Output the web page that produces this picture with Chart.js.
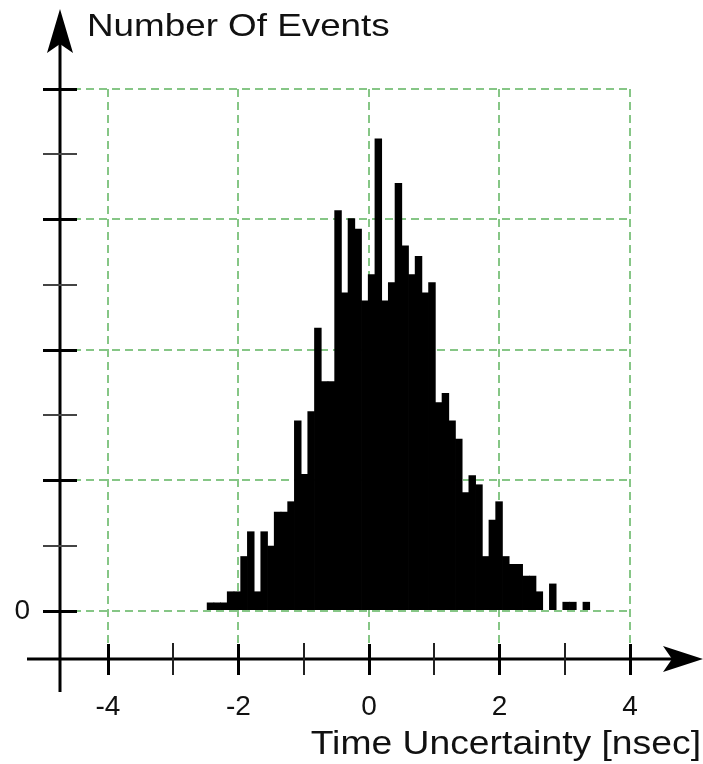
<!DOCTYPE html>
<html>
<head>
<meta charset="utf-8">
<script src="https://cdn.jsdelivr.net/npm/chart.js@4.4.1/dist/chart.umd.min.js"></script>
<style>
  html, body { margin: 0; padding: 0; background: #ffffff; }
  #wrap { width: 703px; height: 764px; position: relative; }
</style>
</head>
<body>
<div id="wrap"><canvas id="c" width="703" height="764"></canvas></div>
<script>
// ---- data ----
// bin centres (nsec)
const binCenters = [
  -2.427, -2.324, -2.221, -2.119, -2.016, -1.913, -1.810, -1.707, -1.605, -1.502,
  -1.399, -1.296, -1.193, -1.090, -0.988, -0.885, -0.782, -0.679, -0.576, -0.473,
  -0.371, -0.268, -0.165, -0.062, 0.041, 0.144, 0.246, 0.349, 0.452, 0.555,
  0.658, 0.760, 0.863, 0.966, 1.069, 1.172, 1.274, 1.377, 1.480, 1.583,
  1.686, 1.789, 1.891, 1.994, 2.097, 2.200, 2.303, 2.405, 2.508, 2.611,
  2.714, 2.817, 2.919, 3.022, 3.125, 3.228, 3.331
];
// number of events (arbitrary units, one major grid step = 10)
const eventCounts = [
  0.65, 0.65, 0.65, 1.5, 1.5, 4.2, 6.1, 1.5, 6.1, 5.0,
  7.6, 7.6, 8.4, 14.6, 10.5, 15.3, 21.7, 17.6, 17.6, 30.7,
  24.4, 30.1, 29.3, 23.8, 25.8, 36.2, 23.8, 25.2, 32.8, 28.0,
  25.8, 27.2, 24.4, 25.2, 16.0, 16.7, 14.6, 13.2, 9.1, 10.4,
  9.7, 4.2, 7.0, 8.4, 4.2, 3.6, 3.6, 2.7, 2.7, 1.5,
  0, 2.1, 0, 0.7, 0.7, 0, 0.7
];
// axis ticks
const xMajorTicks = [-4, -2, 0, 2, 4];
const xMinorTicks = [-3, -1, 1, 3];
const yMajorTicks = [0, 10, 20, 30, 40];
const yMinorTicks = [5, 15, 25, 35];
const yLabelledTicks = [0];
const xTitle = 'Time Uncertainty [nsec]';
const yTitle = 'Number Of Events';

const FONT = '"Liberation Sans", Arial, Helvetica, sans-serif';
const GRID = '#86c686';

const axesPlugin = {
  id: 'arrowAxes',
  afterDraw(chart) {
    const ctx = chart.ctx;
    const xs = chart.scales.x, ys = chart.scales.y;
    const ax = xs.getPixelForValue(xs.min);   // y axis position
    const ay = ys.getPixelForValue(ys.min);   // x axis position
    ctx.save();
    ctx.strokeStyle = '#000';
    ctx.fillStyle = '#000';
    ctx.lineCap = 'butt';
    // y axis line
    ctx.lineWidth = 3;
    ctx.beginPath();
    ctx.moveTo(ax, ay + 33);
    ctx.lineTo(ax, 40);
    ctx.stroke();
    // y arrow head
    ctx.beginPath();
    ctx.moveTo(ax, 9);
    ctx.lineTo(ax - 13, 53);
    ctx.lineTo(ax, 44);
    ctx.lineTo(ax + 13, 53);
    ctx.closePath();
    ctx.fill();
    // x axis line
    ctx.beginPath();
    ctx.moveTo(27, ay);
    ctx.lineTo(675, ay);
    ctx.stroke();
    // x arrow head
    ctx.beginPath();
    ctx.moveTo(703, ay);
    ctx.lineTo(663, ay - 13);
    ctx.lineTo(672, ay);
    ctx.lineTo(663, ay + 13);
    ctx.closePath();
    ctx.fill();
    // x ticks
    ctx.lineWidth = 3;
    xMajorTicks.forEach(v => {
      const p = Math.round(xs.getPixelForValue(v)) + 0.5;
      ctx.beginPath(); ctx.moveTo(p, ay - 15); ctx.lineTo(p, ay + 16); ctx.stroke();
    });
    ctx.lineWidth = 2;
    ctx.strokeStyle = '#222';
    xMinorTicks.forEach(v => {
      const p = Math.round(xs.getPixelForValue(v));
      ctx.beginPath(); ctx.moveTo(p, ay - 16); ctx.lineTo(p, ay + 16); ctx.stroke();
    });
    // y ticks
    ctx.strokeStyle = '#000';
    ctx.lineWidth = 3;
    yMajorTicks.forEach(v => {
      const p = Math.round(ys.getPixelForValue(v)) + 0.5;
      ctx.beginPath(); ctx.moveTo(ax - 17, p); ctx.lineTo(ax + 17, p); ctx.stroke();
    });
    ctx.lineWidth = 2;
    ctx.strokeStyle = '#444';
    yMinorTicks.forEach(v => {
      const p = Math.round(ys.getPixelForValue(v));
      ctx.beginPath(); ctx.moveTo(ax - 17, p); ctx.lineTo(ax + 17, p); ctx.stroke();
    });
    // titles
    ctx.fillStyle = '#111';
    ctx.textBaseline = 'alphabetic';
    ctx.save();
    ctx.translate(87, 36);
    ctx.scale(1.15, 1);
    ctx.font = '32px ' + FONT;
    ctx.textAlign = 'left';
    ctx.fillText(yTitle, 0, 0);
    ctx.restore();
    ctx.save();
    ctx.translate(701, 754);
    ctx.scale(1.13, 1);
    ctx.font = '33px ' + FONT;
    ctx.textAlign = 'right';
    ctx.fillText(xTitle, 0, 0);
    ctx.restore();
    ctx.restore();
  }
};

new Chart(document.getElementById('c'), {
  type: 'bar',
  data: {
    datasets: [{
      data: binCenters.map((c, i) => ({ x: c, y: eventCounts[i] })),
      backgroundColor: '#000000',
      borderWidth: 0,
      barPercentage: 1.12,
      categoryPercentage: 1.0
    }]
  },
  options: {
    responsive: false,
    animation: false,
    devicePixelRatio: 1,
    layout: { padding: { top: 89, right: 73, left: 0, bottom: 0 } },
    plugins: { legend: { display: false }, tooltip: { enabled: false }, title: { display: false } },
    scales: {
      x: {
        type: 'linear',
        min: -4.733,
        max: 4,
        offset: false,
        afterBuildTicks: s => { s.ticks = xMajorTicks.map(v => ({ value: v })); },
        afterFit: s => { s.height = 105; },
        border: { display: false, dash: [8, 5] },
        grid: { color: GRID, lineWidth: 2, drawTicks: false, offset: false },
        ticks: {
          autoSkip: false, maxRotation: 0, padding: 31,
          color: '#111', font: { family: FONT, size: 28 },
          callback: v => String(v)
        }
      },
      y: {
        type: 'linear',
        min: -3.68,
        max: 40,
        offset: false,
        afterBuildTicks: s => { s.ticks = yMajorTicks.map(v => ({ value: v })); },
        afterFit: s => { s.width = 60; },
        border: { display: false, dash: [8, 5] },
        grid: { color: GRID, lineWidth: 2, drawTicks: false, offset: false },
        ticks: {
          autoSkip: false, padding: 30,
          color: '#111', font: { family: FONT, size: 28 },
          callback: v => (yLabelledTicks.includes(v) ? String(v) : '')
        }
      }
    }
  },
  plugins: [axesPlugin]
});
</script>
</body>
</html>
